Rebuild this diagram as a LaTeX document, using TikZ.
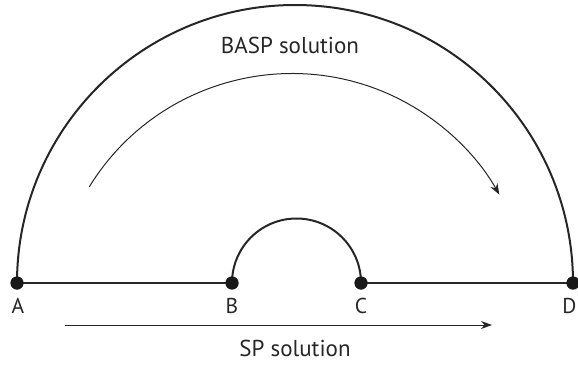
\documentclass[tikz,border=0pt]{standalone}
\usepackage{fontspec}
\setmainfont{PT Sans}
\usetikzlibrary{arrows.meta,calc}
\begin{document}
\begin{tikzpicture}[x=1pt,y=1pt,
  dot/.style={circle,fill=black!90,inner sep=0pt,minimum size=13pt},
  thick line/.style={line width=2pt,draw=black!85},
  thin arrow/.style={line width=1pt,draw=black!85,-{Stealth[length=11pt,width=8pt]}},
  lbl/.style={anchor=base,font=\fontsize{21.5}{26}\selectfont,text=black!85,inner sep=0pt}]
\useasboundingbox (0,0) rectangle (578,-365);
% baseline points
\node[dot] (A) at (17,-283) {};
\node[dot] (B) at (232,-283) {};
\node[dot] (C) at (361,-283) {};
\node[dot] (D) at (573,-283) {};
% lines and arcs
\draw[thick line] (A.center) arc[start angle=180,end angle=0,radius=278];
\draw[thick line] (B.center) arc[start angle=180,end angle=0,radius=64.5];
\draw[thick line] (A.center) -- (B.center);
\draw[thick line] (C.center) -- (D.center);
% redraw dots on top
\node[dot] at (A) {};
\node[dot] at (B) {};
\node[dot] at (C) {};
\node[dot] at (D) {};
% labels
\node[lbl] (lA) at (18,-313) {A};
\node[lbl] (lB) at (232,-313) {B};
\node[lbl] (lC) at (361,-313) {C};
\node[lbl] (lD) at (569.5,-313) {D};
% BASP arrow
\coordinate (bs) at (292,-311.5);
\draw[thin arrow] ($(bs)+(148.4:238)$) arc[start angle=148.4,end angle=29.4,radius=238];
\node[lbl,font=\fontsize{23}{28}\selectfont] (basp) at (290,-53) {BASP solution};
% SP arrow
\coordinate (s1) at (65,-325);
\coordinate (s2) at (492,-325);
\draw[thin arrow] (s1) -- (s2);
\node[lbl,font=\fontsize{23}{28}\selectfont] (sp) at (295,-356.5) {SP solution};
\end{tikzpicture}
\end{document}
